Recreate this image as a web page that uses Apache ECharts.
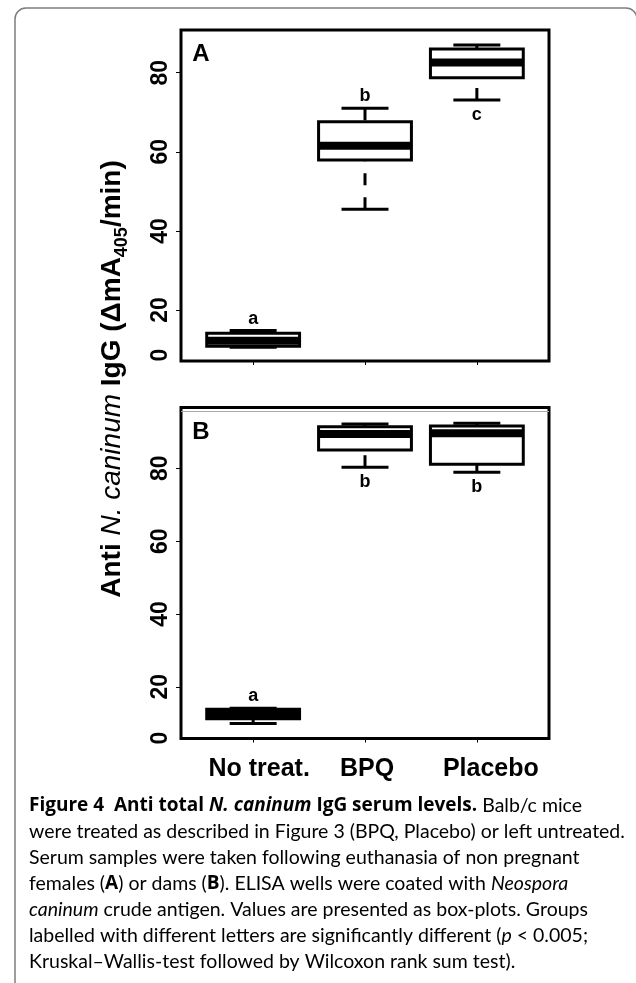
<!DOCTYPE html>
<html><head><meta charset="utf-8">
<script src="https://cdn.jsdelivr.net/npm/echarts@6/dist/echarts.min.js"></script>
<style>html,body{margin:0;padding:0;background:#fff}#c{width:636px;height:983px}</style>
</head><body><div id="c"></div>
<script>
// ---------- data ----------
const categories = ['No treat.', 'BPQ', 'Placebo'];
const yTickValues = [0, 20, 40, 60, 80];
// Panel A (non pregnant females)
const panelA_min    = [10.6, 45.5, 73.1];
const panelA_q1     = [10.8, 57.9, 78.7];
const panelA_median = [12.2, 61.5, 82.6];
const panelA_q3     = [14.1, 67.6, 86.0];
const panelA_max    = [14.8, 71.0, 87.0];
const panelA_letters = ['a', 'b', 'c'];
// Panel B (dams)
const panelB_min    = [9.95, 80.3, 78.9];
const panelB_q1     = [11.2, 85.0, 81.1];
const panelB_median = [12.5, 89.4, 89.6];
const panelB_q3     = [13.8, 91.4, 91.6];
const panelB_max    = [14.1, 92.2, 92.4];
const panelB_letters = ['a', 'b', 'b'];

// ---------- layout / style ----------
const FONT = '"Liberation Sans", Arial, Helvetica, sans-serif';
const CAP_FONT = 'Lato, "Open Sans", sans-serif';
const CAP_BOLD_FONT = '"Open Sans", Lato, sans-serif';
const CAP_SIZE = 19.5;
const BOX_W = 0.83, CAP_W = 0.42;
const X_MIN = 0.355, X_MAX = 3.645;
const A_RANGE = [7.1, 90.8], B_RANGE = [5.8, 96.7];
const A_ZERO_POS = 8.6, B_ZERO_POS = 5.9;   // where the "0" label sits on each panel
const B_GUIDE = 95.6;

function rows(mins, q1s, meds, q3s, maxs) {
  return categories.map((c, i) => [i + 1, mins[i], q1s[i], meds[i], q3s[i], maxs[i]]);
}

function makeRender(letters, yMax) {
  return function (params, api) {
    const x = api.value(0), mn = api.value(1), q1 = api.value(2), md = api.value(3), q3 = api.value(4), mx = api.value(5);
    const pMin = api.coord([x, mn]), pQ1 = api.coord([x, q1]), pMd = api.coord([x, md]),
          pQ3 = api.coord([x, q3]), pMax = api.coord([x, mx]);
    const half = api.size([BOX_W, 0])[0] / 2, capHalf = api.size([CAP_W, 0])[0] / 2;
    const cx = pMd[0];
    const ln = (x1, y1, x2, y2, w, dash) => ({type: 'line', shape: {x1, y1, x2, y2},
      style: {stroke: '#000', lineWidth: w, lineDash: dash || null, lineCap: 'butt'}});
    const children = [
      ln(cx, pMin[1], cx, pQ1[1], 3, [12, 12]),
      ln(cx, pMax[1], cx, pQ3[1], 3, [12, 12]),
      ln(cx - capHalf, pMin[1], cx + capHalf, pMin[1], 3),
      ln(cx - capHalf, pMax[1], cx + capHalf, pMax[1], 3),
      {type: 'rect', shape: {x: cx - half, y: pQ3[1], width: 2 * half, height: pQ1[1] - pQ3[1]},
       style: {fill: '#fff', stroke: '#000', lineWidth: 3}},
      ln(cx - half, pMd[1], cx + half, pMd[1], 8)
    ];
    const above = (yMax - mx) > 8;
    children.push({type: 'text', x: cx, y: above ? pMax[1] - 3 : pMin[1] + 6,
      style: {text: letters[params.dataIndex], fill: '#000', fontSize: 18, fontWeight: 'bold', fontFamily: FONT,
              align: 'center', verticalAlign: above ? 'bottom' : 'top'}});
    return {type: 'group', children};
  };
}

const xLabelShift = {'No treat.': 12, 'BPQ': 4, 'Placebo': 28};
const xRich = {};
categories.forEach((c, i) => {
  xRich['c' + i] = {fontSize: 25, fontWeight: 'bold', fontFamily: FONT, color: '#000', padding: [0, 0, 0, xLabelShift[c]]};
});

function xAxisCfg(gridIndex, showLabels) {
  return {
    type: 'value', gridIndex, min: X_MIN, max: X_MAX,
    axisLine: {show: false}, splitLine: {show: false},
    axisTick: {show: true, customValues: [1, 2, 3], length: 4, lineStyle: {color: '#000', width: 1}},
    axisLabel: {show: showLabels, customValues: [1, 2, 3], margin: 18,
      formatter: v => { const i = Math.round(v) - 1; return '{c' + i + '|' + categories[i] + '}'; },
      rich: xRich}
  };
}
function yAxisCfg(gridIndex, range, zeroPos) {
  const labelVals = yTickValues.map(v => v === 0 ? zeroPos : v);
  return {
    type: 'value', gridIndex, min: range[0], max: range[1],
    axisLine: {show: false}, splitLine: {show: false},
    axisTick: {show: true, customValues: yTickValues.filter(v => v > 0), length: 5, lineStyle: {color: '#000', width: 1}},
    axisLabel: {customValues: labelVals, rotate: 90, margin: 9, color: '#000', fontSize: 23, fontWeight: 'bold', fontFamily: FONT,
      formatter: v => (v < 20 ? String(yTickValues[0]) : String(Math.round(v)))}
  };
}

const captionLines = [
  '{b|Figure 4  Anti total }{bi|N. caninum}{b| IgG serum levels.}{r| Balb/c mice}',
  '{r|were treated as described in Figure }{blue|3}{r| (BPQ, Placebo) or left untreated.}',
  '{r|Serum samples were taken following euthanasia of non pregnant}',
  '{r|females (}{b|A}{r|) or dams (}{b|B}{r|). ELISA wells were coated with }{i|Neospora}',
  '{i|caninum}{r| crude antigen. Values are presented as box-plots. Groups}',
  '{r|labelled with different letters are significantly different (}{i|p}{r| < 0.005;}',
  '{r|Kruskal–Wallis-test followed by Wilcoxon rank sum test).}'
];
const capRich = {
  r: {fontSize: CAP_SIZE, fontFamily: CAP_FONT, color: '#231f20'},
  b: {fontSize: 19, fontFamily: CAP_BOLD_FONT, fontWeight: 'bold', color: '#231f20'},
  bi: {fontSize: 19, fontFamily: CAP_BOLD_FONT, fontWeight: 'bold', fontStyle: 'italic', color: '#231f20'},
  i: {fontSize: CAP_SIZE, fontFamily: CAP_FONT, fontStyle: 'italic', color: '#231f20'},
  blue: {fontSize: CAP_SIZE, fontFamily: CAP_FONT, color: '#2f4fd0'}
};

const graphics = [
  {type: 'rect', z: 0, shape: {x: 15, y: 8, width: 622, height: 1100, r: 11},
   style: {fill: 'none', stroke: '#7d7d7d', lineWidth: 1.5}},
  {type: 'text', x: 201, y: 54, z: 10, style: {text: 'A', fontSize: 24, fontWeight: 'bold', fontFamily: FONT, fill: '#000', align: 'center', verticalAlign: 'middle'}},
  {type: 'text', x: 201, y: 432, z: 10, style: {text: 'B', fontSize: 24, fontWeight: 'bold', fontFamily: FONT, fill: '#000', align: 'center', verticalAlign: 'middle'}},
  {type: 'text', x: 112, y: 379, rotation: Math.PI / 2, z: 10,
   style: {text: '{b|Anti }{i|N. caninum}{b| IgG (ΔmA}{s|405}{b|/min)}', align: 'center', verticalAlign: 'middle',
     rich: {
       b: {fontSize: 28, fontWeight: 'bold', fontFamily: FONT, color: '#000', lineHeight: 38, verticalAlign: 'middle'},
       i: {fontSize: 28, fontStyle: 'italic', fontFamily: FONT, color: '#000', lineHeight: 38, verticalAlign: 'middle'},
       s: {fontSize: 18, fontWeight: 'bold', fontFamily: FONT, color: '#000', lineHeight: 15, verticalAlign: 'bottom'}
     }}}
];
captionLines.forEach((t, k) => {
  graphics.push({type: 'text', x: 29, y: 806 + k * 26, z: 10,
    style: {text: t, rich: capRich, align: 'left', verticalAlign: 'middle'}});
});

const option = {
  backgroundColor: '#fff',
  animation: false,
  grid: [
    {left: 181, top: 30, width: 368, height: 331, show: true, borderColor: '#000', borderWidth: 3, backgroundColor: '#fff'},
    {left: 181, top: 407.5, width: 368, height: 331, show: true, borderColor: '#000', borderWidth: 3, backgroundColor: '#fff'}
  ],
  xAxis: [xAxisCfg(0, false), xAxisCfg(1, true)],
  yAxis: [yAxisCfg(0, A_RANGE, A_ZERO_POS), yAxisCfg(1, B_RANGE, B_ZERO_POS)],
  series: [
    {type: 'custom', xAxisIndex: 0, yAxisIndex: 0, renderItem: makeRender(panelA_letters, A_RANGE[1]),
     encode: {x: 0, y: [1, 2, 3, 4, 5]},
     data: rows(panelA_min, panelA_q1, panelA_median, panelA_q3, panelA_max)},
    {type: 'custom', xAxisIndex: 1, yAxisIndex: 1, renderItem: makeRender(panelB_letters, B_RANGE[1]),
     encode: {x: 0, y: [1, 2, 3, 4, 5]},
     data: rows(panelB_min, panelB_q1, panelB_median, panelB_q3, panelB_max),
     markLine: {silent: true, symbol: 'none', label: {show: false}, animation: false,
       lineStyle: {color: '#a8a8a8', width: 1, type: 'solid'}, data: [{yAxis: B_GUIDE}]}}
  ],
  graphic: graphics
};
const chart = echarts.init(document.getElementById('c'));
chart.setOption(option);
</script>
</body></html>
